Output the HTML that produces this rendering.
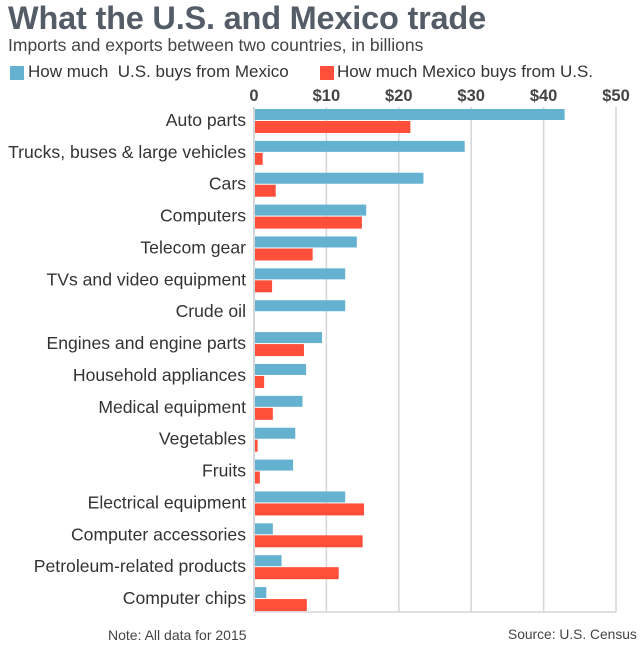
<!DOCTYPE html>
<html><head><meta charset="utf-8"><style>
body{margin:0;background:#fff;font-family:"Liberation Sans",sans-serif;}
#wrap{position:relative;width:640px;height:649px;overflow:hidden;}
.t{position:absolute;white-space:nowrap;}
</style></head><body>
<div id="wrap">
<div class="t" style="left:8px;top:0px;font-size:32.5px;font-weight:bold;color:#545c68;letter-spacing:-0.2px">What the U.S. and Mexico trade</div>
<div class="t" style="left:8px;top:35px;font-size:17.5px;color:#444">Imports and exports between two countries, in billions</div>
<div style="position:absolute;left:10px;top:66px;width:14px;height:14px;background:#64b1d0"></div>
<div class="t" style="left:28px;top:62px;font-size:17px;color:#333">How much &nbsp;U.S. buys from Mexico</div>
<div style="position:absolute;left:320px;top:66px;width:14px;height:14px;background:#ff4f3a"></div>
<div class="t" style="left:337px;top:62px;font-size:17px;color:#333">How much Mexico buys from U.S.</div>
<svg id="svg" width="640" height="649" style="position:absolute;left:0;top:0"></svg>
<div class="t" style="left:108px;top:627px;font-size:14px;color:#444">Note: All data for 2015</div>
<div class="t" style="left:508px;top:627px;font-size:13.8px;color:#444">Source: U.S. Census</div>
</div>
<script>
const categories=["Auto parts","Trucks, buses & large vehicles","Cars","Computers","Telecom gear","TVs and video equipment","Crude oil","Engines and engine parts","Household appliances","Medical equipment","Vegetables","Fruits","Electrical equipment","Computer accessories","Petroleum-related products","Computer chips"];
const usBuys=[42.9,29.1,23.4,15.5,14.2,12.6,12.6,9.4,7.2,6.7,5.7,5.4,12.6,2.6,3.8,1.7];
const mexicoBuys=[21.6,1.2,3.0,14.9,8.1,2.5,0,6.9,1.4,2.6,0.5,0.8,15.2,15.0,11.7,7.3];
const ticks=[0,10,20,30,40,50];
const tickLabels=["0","$10","$20","$30","$40","$50"];
const NS="http://www.w3.org/2000/svg";
const svg=document.getElementById('svg');
const x0=254,x1=616,top0=107,bottom=612,pitch=31.87;
const x=v=>x0+(x1-x0)*v/50;
function mk(t,a){const e=document.createElementNS(NS,t);for(const k in a)e.setAttribute(k,a[k]);svg.appendChild(e);return e;}
ticks.forEach((v,i)=>{
  const g=mk('line',{x1:x(v),x2:x(v),y1:top0,y2:bottom,stroke:'#d4d6da','stroke-width':i===0?2:1.5});
  
  
  const tx=mk('text',{x:x(v),y:101,'text-anchor':'middle','font-size':16.5,'font-weight':'bold',fill:'#444','font-family':'Liberation Sans, sans-serif'});
  tx.textContent=tickLabels[i];
  
  
});
const ax=mk('line',{x1:x0,x2:x1,y1:bottom,y2:bottom,stroke:'#d4d6da','stroke-width':1.5});


categories.forEach((c,i)=>{
  const y=top0+2+i*pitch;
  const b=mk('rect',{x:x0+1,y:y,width:Math.max(0,x(usBuys[i])-x0-1),height:11,fill:'#64b1d0'});
  
  
  const r=mk('rect',{x:x0+1,y:y+12,width:Math.max(0,x(mexicoBuys[i])-x0-1),height:12,fill:'#ff4f3a'});
  
  
  const l=mk('text',{x:246,y:y+17,'text-anchor':'end','font-size':17.6,fill:'#333','font-family':'Liberation Sans, sans-serif'});
  l.textContent=c;
  
  
});
</script>
</body></html>
